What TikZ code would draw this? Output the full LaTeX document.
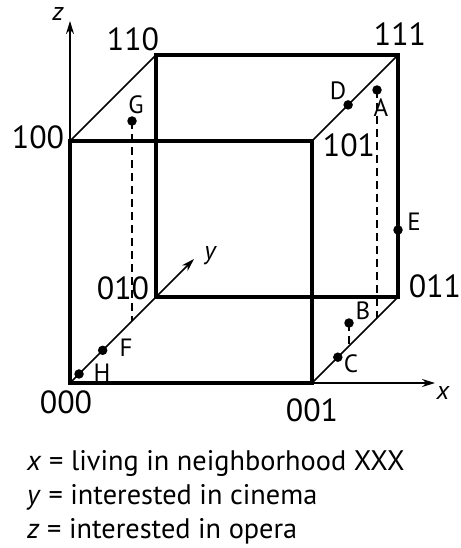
\documentclass[tikz,border=0pt]{standalone}
\usepackage{fontspec}
\setmainfont{PT Sans}
\usetikzlibrary{arrows.meta,calc}
\begin{document}
\begin{tikzpicture}[x=1pt,y=-1pt,
  edge/.style={line width=3.2pt,line cap=rect},
  diag/.style={line width=1.6pt},
  axis/.style={line width=1.6pt,-{Stealth[length=13pt,width=8pt]}},
  dot/.style={circle,fill,inner sep=0pt,minimum size=9.5pt},
  proj/.style={line width=1.5pt,dash pattern=on 8pt off 5pt},
  vlab/.style={font=\fontsize{32}{34}\selectfont,inner sep=0pt},
  plab/.style={font=\fontsize{25}{28}\selectfont,inner sep=0pt},
  alab/.style={font=\fontsize{26}{28}\selectfont\itshape,inner sep=0pt},
  legend/.style={font=\fontsize{28.3}{30}\selectfont,inner sep=0pt,anchor=base west}]
\useasboundingbox (0,0) rectangle (460,548);
% corners
\coordinate (c000) at (70,383);
\coordinate (c001) at (312,383);
\coordinate (c100) at (70,141);
\coordinate (c101) at (312,141);
\coordinate (c010) at (156,297);
\coordinate (c011) at (398,297);
\coordinate (c110) at (156,55);
\coordinate (c111) at (398,55);
% axis ends
\coordinate (zend) at (70,21);
\coordinate (xend) at (435,383);
\coordinate (yend) at (194,259);
% diagonals
\draw[diag] (c100) -- (c110);
\draw[diag] (c101) -- (c111);
\draw[diag] (c001) -- (c011);
\draw[diag] (c000) -- (c010);
% axes
\draw[axis] (c100) -- (zend);
\draw[axis] (c001) -- (xend);
\draw[axis] (c010) -- (yend);
% squares
\draw[edge] (c110) -- (c111) -- (c011) -- (c010) -- cycle;
\draw[edge] (c100) -- (c101) -- (c001) -- (c000) -- cycle;
% points
\node[dot] (G) at (132,121) {};
\node[dot] (D) at ($(c101)!0.42!(c111)$) {};
\node[dot] (A) at (377,90) {};
\node[dot] (E) at ($(c011)!0.277!(c111)$) {};
\node[dot] (B) at (349,323) {};
\node[dot] (C) at ($(c001)!0.30!(c011)$) {};
\node[dot] (F) at ($(c000)!0.38!(c010)$) {};
\node[dot] (H) at ($(c000)!0.105!(c010)$) {};
% projection feet
\coordinate (Gf) at (132,321);
\coordinate (Af) at (377,318);
\coordinate (Bf) at (349,346);
\draw[proj] (G.center) -- (Gf);
\draw[proj] (A.center) -- (Af);
\draw[proj] (B.center) -- (Bf);
% point labels
\node[plab] (lG) at (136,105) {G};
\node[plab] (lD) at (338,91) {D};
\node[plab] (lA) at (381,108) {A};
\node[plab] (lE) at (414,222) {E};
\node[plab] (lB) at (363,311) {B};
\node[plab] (lC) at (351,364) {C};
\node[plab] (lF) at (126,348) {F};
\node[plab] (lH) at (102,373) {H};
% vertex labels
\node[vlab] (l110) at (133,39) {110};
\node[vlab] (l111) at (400,34) {111};
\node[vlab] (l100) at (38,137) {100};
\node[vlab] (l101) at (349,145) {101};
\node[vlab] (l010) at (123,288) {010};
\node[vlab] (l000) at (66,402) {000};
\node[vlab] (l011) at (435,286) {011};
\node[vlab] (l001) at (312,410) {001};
% axis labels
\node[alab] (lz) at (58,14) {z};
\node[alab] (ly) at (210,256) {y};
\node[alab] (lx) at (443,393) {x};
% legend
\node[legend] (t1) at (27,470) {\textit{x} = living in neighborhood XXX};
\node[legend] (t2) at (27,504) {\textit{y} = interested in cinema};
\node[legend] (t3) at (27,538) {\textit{z} = interested in opera};
\end{tikzpicture}
\end{document}
